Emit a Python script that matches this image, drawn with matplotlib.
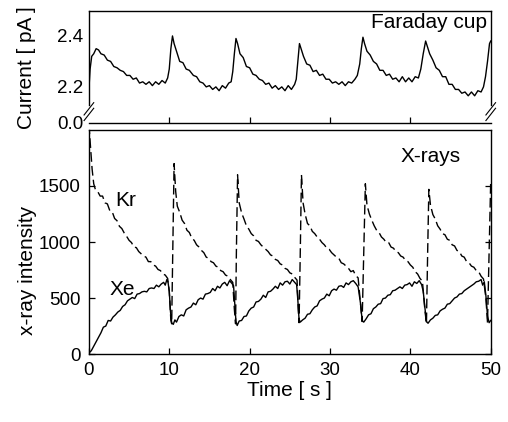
import matplotlib

matplotlib.use("Agg")
import matplotlib.pyplot as plt

plt.rcParams["font.family"] = ["Liberation Sans", "DejaVu Sans"]

# Faraday cup current [pA]
t_cur = [0.0, 0.15, 0.35, 0.6, 0.9, 1.2, 1.5, 1.9, 2.3, 2.7, 3.1, 3.5, 3.9, 4.3, 4.7,
         5.1, 5.5, 5.9, 6.3, 6.7, 7.1, 7.5, 7.9, 8.3, 8.7, 9.1, 9.5, 9.8, 10.0, 10.2,
         10.4, 10.6, 10.9, 11.3, 11.7, 12.1, 12.5, 13.0, 13.4, 13.8, 14.2, 14.6, 15.0,
         15.4, 15.8, 16.2, 16.6, 17.0, 17.4, 17.7, 17.9, 18.1, 18.3, 18.5, 18.8, 19.2,
         19.6, 20.0, 20.4, 20.8, 21.2, 21.6, 22.0, 22.4, 22.8, 23.2, 23.6, 24.0, 24.4,
         24.8, 25.2, 25.6, 25.8, 26.0, 26.2, 26.4, 26.7, 27.1, 27.5, 27.9, 28.3, 28.7,
         29.1, 29.5, 29.9, 30.3, 30.7, 31.1, 31.5, 31.9, 32.3, 32.7, 33.1, 33.4, 33.7,
         33.9, 34.1, 34.3, 34.6, 35.0, 35.4, 35.8, 36.2, 36.6, 37.0, 37.4, 37.8, 38.2,
         38.6, 39.0, 39.4, 39.8, 40.2, 40.6, 41.0, 41.3, 41.6, 41.9, 42.1, 42.4, 42.8,
         43.2, 43.6, 44.0, 44.4, 44.8, 45.2, 45.6, 46.0, 46.4, 46.8, 47.2, 47.6, 48.0,
         48.4, 48.8, 49.1, 49.35, 49.6, 49.85, 50.0]
current = [2.19, 2.27, 2.32, 2.33, 2.35, 2.345, 2.33, 2.325, 2.305, 2.30, 2.28, 2.275,
           2.265, 2.26, 2.245, 2.245, 2.23, 2.235, 2.215, 2.22, 2.21, 2.22, 2.205, 2.22,
           2.21, 2.225, 2.215, 2.235, 2.27, 2.35, 2.40, 2.37, 2.34, 2.30, 2.295, 2.27,
           2.265, 2.245, 2.24, 2.22, 2.215, 2.20, 2.205, 2.19, 2.20, 2.185, 2.205, 2.195,
           2.215, 2.22, 2.26, 2.33, 2.39, 2.37, 2.33, 2.315, 2.28, 2.275, 2.25, 2.245,
           2.23, 2.225, 2.21, 2.215, 2.195, 2.205, 2.19, 2.20, 2.185, 2.205, 2.19, 2.21,
           2.23, 2.30, 2.37, 2.35, 2.32, 2.29, 2.285, 2.26, 2.265, 2.245, 2.25, 2.23,
           2.23, 2.215, 2.22, 2.21, 2.22, 2.205, 2.22, 2.215, 2.23, 2.245, 2.29, 2.35,
           2.395, 2.37, 2.34, 2.325, 2.30, 2.29, 2.265, 2.265, 2.245, 2.25, 2.23, 2.235,
           2.22, 2.24, 2.22, 2.235, 2.22, 2.24, 2.235, 2.27, 2.33, 2.38, 2.36, 2.33,
           2.305, 2.275, 2.265, 2.24, 2.24, 2.21, 2.21, 2.19, 2.19, 2.175, 2.18, 2.165,
           2.18, 2.165, 2.185, 2.18, 2.20, 2.24, 2.30, 2.37, 2.38]

# Xe x-ray intensity
t_xe = [0.0, 0.3, 0.6, 0.9, 1.2, 1.5, 1.8, 2.1, 2.4, 2.7, 3.0, 3.3, 3.6, 3.9, 4.2, 4.5,
        4.8, 5.1, 5.4, 5.7, 6.0, 6.3, 6.6, 6.9, 7.2, 7.5, 7.8, 8.1, 8.4, 8.7, 9.0, 9.3,
        9.5, 9.7, 9.85, 10.0, 10.15, 10.3, 10.5, 10.7, 10.9, 11.2, 11.5, 11.8, 12.1,
        12.4, 12.7, 13.0, 13.3, 13.6, 13.9, 14.2, 14.5, 14.8, 15.1, 15.4, 15.7, 16.0,
        16.3, 16.6, 16.9, 17.2, 17.5, 17.8, 18.0, 18.15, 18.3, 18.45, 18.7, 19.0, 19.3,
        19.6, 19.9, 20.2, 20.5, 20.8, 21.1, 21.4, 21.7, 22.0, 22.3, 22.6, 22.9, 23.2,
        23.5, 23.8, 24.1, 24.4, 24.7, 25.0, 25.3, 25.6, 25.85, 26.0, 26.15, 26.3, 26.6,
        26.9, 27.2, 27.5, 27.8, 28.1, 28.4, 28.7, 29.0, 29.3, 29.6, 29.9, 30.2, 30.5,
        30.8, 31.1, 31.4, 31.7, 32.0, 32.3, 32.6, 32.9, 33.2, 33.5, 33.8, 34.0, 34.2,
        34.5, 34.8, 35.1, 35.4, 35.7, 36.0, 36.3, 36.6, 36.9, 37.2, 37.5, 37.8, 38.1,
        38.4, 38.7, 39.0, 39.3, 39.6, 39.9, 40.2, 40.5, 40.8, 41.1, 41.4, 41.6, 41.8,
        42.0, 42.2, 42.5, 42.8, 43.1, 43.4, 43.7, 44.0, 44.3, 44.6, 44.9, 45.2, 45.5,
        45.8, 46.1, 46.4, 46.7, 47.0, 47.3, 47.6, 47.9, 48.2, 48.5, 48.8, 49.0, 49.2,
        49.4, 49.6, 49.8, 50.0]
xe = [10, 30, 70, 110, 150, 190, 240, 250, 300, 295, 330, 350, 375, 390, 425, 440, 475,
      490, 505, 495, 535, 540, 555, 560, 555, 585, 590, 585, 615, 600, 625, 640, 615,
      665, 640, 560, 380, 280, 265, 305, 285, 335, 350, 340, 395, 410, 420, 455, 440,
      485, 500, 490, 535, 540, 550, 585, 565, 605, 590, 625, 640, 610, 655, 630, 610,
      450, 290, 255, 295, 300, 335, 340, 385, 410, 420, 465, 470, 490, 525, 505, 555,
      560, 580, 605, 585, 635, 615, 645, 650, 625, 665, 640, 620, 480, 310, 285, 305,
      320, 355, 360, 395, 420, 430, 475, 490, 500, 535, 520, 565, 580, 570, 605, 610,
      595, 635, 620, 645, 655, 630, 600, 450, 300, 285, 315, 350, 360, 405, 420, 445,
      450, 495, 500, 525, 530, 565, 570, 585, 600, 585, 615, 620, 635, 605, 645, 630,
      655, 620, 560, 420, 290, 275, 305, 320, 345, 350, 385, 400, 410, 445, 450, 475,
      500, 510, 535, 540, 565, 580, 595, 610, 625, 645, 650, 665, 615, 645, 520, 340,
      280, 300]

# Kr x-ray intensity
t_kr = [0.0, 0.2, 0.4, 0.6, 0.8, 1.1, 1.4, 1.7, 2.0, 2.3, 2.6, 2.9, 3.2, 3.5, 3.8, 4.1,
        4.4, 4.7, 5.0, 5.3, 5.6, 5.9, 6.2, 6.5, 6.8, 7.1, 7.4, 7.7, 8.0, 8.3, 8.6, 8.9,
        9.2, 9.5, 9.8, 10.0, 10.2, 10.3, 10.45, 10.6, 10.8, 11.0, 11.3, 11.6, 11.9,
        12.2, 12.5, 12.8, 13.1, 13.4, 13.7, 14.0, 14.3, 14.6, 14.9, 15.2, 15.5, 15.8,
        16.1, 16.4, 16.7, 17.0, 17.3, 17.6, 17.9, 18.1, 18.25, 18.35, 18.5, 18.7, 19.0,
        19.3, 19.6, 19.9, 20.2, 20.5, 20.8, 21.1, 21.4, 21.7, 22.0, 22.3, 22.6, 22.9,
        23.2, 23.5, 23.8, 24.1, 24.4, 24.7, 25.0, 25.3, 25.6, 25.9, 26.05, 26.15, 26.3,
        26.45, 26.65, 26.9, 27.2, 27.5, 27.8, 28.1, 28.4, 28.7, 29.0, 29.3, 29.6, 29.9,
        30.2, 30.5, 30.8, 31.1, 31.4, 31.7, 32.0, 32.3, 32.6, 32.9, 33.2, 33.5, 33.8,
        34.0, 34.2, 34.4, 34.6, 34.9, 35.2, 35.5, 35.8, 36.1, 36.4, 36.7, 37.0, 37.3,
        37.6, 37.9, 38.2, 38.5, 38.8, 39.1, 39.4, 39.7, 40.0, 40.3, 40.6, 40.9, 41.2,
        41.5, 41.8, 42.0, 42.15, 42.3, 42.5, 42.8, 43.1, 43.4, 43.7, 44.0, 44.3, 44.6,
        44.9, 45.2, 45.5, 45.8, 46.1, 46.4, 46.7, 47.0, 47.3, 47.6, 47.9, 48.2, 48.5,
        48.8, 49.1, 49.4, 49.6, 49.8, 50.0]
kr = [2050, 1850, 1650, 1520, 1470, 1450, 1410, 1410, 1350, 1340, 1280, 1270, 1210,
      1190, 1140, 1120, 1080, 1050, 1015, 995, 955, 950, 915, 895, 875, 865, 825, 825,
      795, 785, 755, 745, 715, 705, 675, 560, 300, 270, 1000, 1700, 1450, 1320, 1265,
      1195, 1165, 1105, 1085, 1035, 1015, 975, 955, 925, 905, 865, 855, 825, 815, 785,
      775, 745, 735, 705, 695, 665, 640, 400, 270, 900, 1600, 1350, 1260, 1205, 1145,
      1115, 1075, 1055, 1015, 1005, 975, 955, 935, 915, 885, 875, 845, 835, 805, 795,
      765, 755, 725, 715, 685, 660, 400, 280, 900, 1600, 1350, 1250, 1165, 1145, 1095,
      1075, 1045, 1025, 995, 975, 945, 935, 905, 885, 865, 855, 815, 805, 785, 765, 735,
      745, 700, 680, 450, 290, 900, 1520, 1330, 1250, 1195, 1145, 1105, 1085, 1045,
      1025, 995, 995, 955, 945, 915, 905, 875, 865, 835, 825, 795, 775, 735, 715, 675,
      650, 400, 270, 900, 1470, 1330, 1245, 1205, 1145, 1115, 1075, 1065, 1025, 1015,
      975, 965, 925, 915, 875, 865, 825, 815, 785, 775, 745, 735, 695, 670, 500, 280,
      900, 1550]

fig = plt.figure(figsize=(5.08, 4.22), dpi=100)
ax_top = fig.add_axes([0.175, 0.709, 0.791, 0.265])
ax_bot = fig.add_axes([0.175, 0.161, 0.791, 0.531])

# top panel: broken y axis, bottom edge stands for 0.0
y_break = 2.059
ax_top.plot(t_cur, current, color="black", linewidth=1.0)
ax_top.set_xlim(0, 50)
ax_top.set_ylim(y_break, 2.498)
ax_top.set_yticks([y_break, 2.2, 2.4])
ax_top.set_yticklabels(["0.0", "2.2", "2.4"])
ax_top.set_xticks([10, 20, 30, 40])
ax_top.set_xticklabels([])
ax_top.tick_params(direction="in", length=4, width=0.9, labelsize=13.5, top=False, right=False)
ax_top.tick_params(axis="y", length=0, pad=4)
for side in ["left", "right"]:
    ax_top.spines[side].set_bounds(2.13, 2.498)
for sp in ax_top.spines.values():
    sp.set_linewidth(1.0)
for x0 in [0.0, 1.0]:
    for dy in [0.0, 0.05]:
        ax_top.plot([x0 - 0.012, x0 + 0.012], [0.02 + dy, 0.13 + dy], color="black",
                    linewidth=0.8, transform=ax_top.transAxes, clip_on=False)
ax_top.text(0.99, 0.846, "Faraday cup", transform=ax_top.transAxes, ha="right",
            va="baseline", fontsize=15)

# bottom panel: x-ray intensities
ax_bot.plot(t_kr, kr, color="black", linewidth=1.0, linestyle=(0, (7, 3)))
ax_bot.plot(t_xe, xe, color="black", linewidth=1.0)
ax_bot.set_xlim(0, 50)
ax_bot.set_ylim(0, 2000)
ax_bot.set_xticks([0, 10, 20, 30, 40, 50])
ax_bot.set_yticks([0, 500, 1000, 1500])
ax_bot.tick_params(direction="in", length=4, width=0.9, labelsize=13.5, right=True, pad=6)
for sp in ax_bot.spines.values():
    sp.set_linewidth(1.0)
ax_bot.text(0.925, 0.88, "X-rays", transform=ax_bot.transAxes, ha="right",
            va="center", fontsize=15)
ax_bot.text(4.6, 1375, "Kr", ha="center", va="center", fontsize=15)
ax_bot.text(4.1, 575, "Xe", ha="center", va="center", fontsize=15)
ax_bot.set_xlabel("Time [ s ]", fontsize=15, labelpad=1)

fig.text(0.053, 0.84, "Current [ pA ]", rotation=90, ha="center", va="center", fontsize=15)
fig.text(0.055, 0.358, "x-ray intensity", rotation=90, ha="center", va="center", fontsize=15)

fig.savefig("out.png", dpi=100)
